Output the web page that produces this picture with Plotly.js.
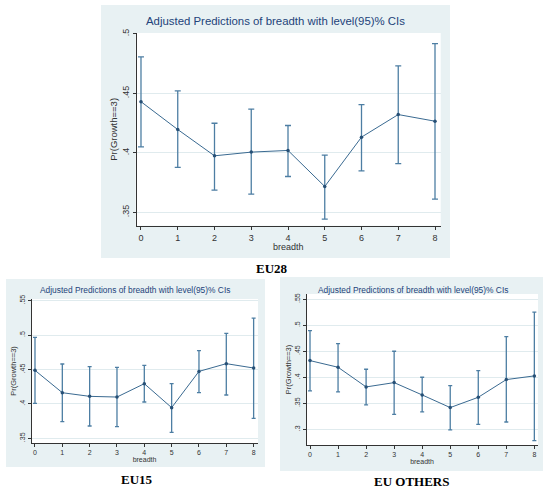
<!DOCTYPE html>
<html>
<head>
<meta charset="utf-8">
<script src="https://cdn.plot.ly/plotly-3.0.1.min.js"></script>
<style>
  html, body { margin: 0; padding: 0; background: #fff; }
  #chart { width: 550px; height: 489px; }
</style>
</head>
<body>
<div id="chart"></div>
<script>
// values
const breadth = [0, 1, 2, 3, 4, 5, 6, 7, 8];

const eu28Pred = [0.443, 0.4196, 0.3975, 0.4006, 0.402, 0.3717, 0.4132, 0.4322, 0.4266];
const eu28Hi   = [0.4807, 0.4521, 0.4249, 0.4367, 0.423, 0.398, 0.4406, 0.4731, 0.4919];
const eu28Lo   = [0.405, 0.3877, 0.3686, 0.3653, 0.3801, 0.3443, 0.3849, 0.391, 0.361];

const eu15Pred = [0.4488, 0.4163, 0.411, 0.41, 0.4294, 0.3946, 0.4473, 0.4585, 0.4522];
const eu15Hi   = [0.4967, 0.458, 0.4541, 0.4532, 0.456, 0.4294, 0.4774, 0.5025, 0.5248];
const eu15Lo   = [0.4009, 0.3742, 0.3679, 0.3669, 0.4028, 0.3587, 0.4163, 0.413, 0.379];

const euoPred = [0.432, 0.4192, 0.3814, 0.3897, 0.366, 0.3417, 0.3615, 0.3955, 0.4026];
const euoHi   = [0.4897, 0.4647, 0.4154, 0.45, 0.40, 0.384, 0.4128, 0.4782, 0.525];
const euoLo   = [0.3737, 0.3718, 0.3468, 0.3288, 0.3333, 0.2987, 0.3096, 0.314, 0.2782];

const eu28Ticks = [0.35, 0.4, 0.45, 0.5];
const eu28TickText = ['.35', '.4', '.45', '.5'];
const eu15Ticks = [0.35, 0.4, 0.45, 0.5, 0.55];
const eu15TickText = ['.35', '.4', '.45', '.5', '.55'];
const euoTicks = [0.3, 0.35, 0.4, 0.45, 0.5, 0.55];
const euoTickText = ['.3', '.35', '.4', '.45', '.5', '.55'];

const plotTitle = 'Adjusted Predictions of breadth with level(95)% CIs';
const panelNames = ['EU28', 'EU15', 'EU OTHERS'];

const W = 550, H = 489;
const px = v => v / W;
const py = v => 1 - v / H;

const lineColor = '#3a6a91';
const capColor = '#4d7ea3';
const regionColor = '#e8f1f3';
const gridColor = '#e0ebee';
const titleColor = '#23437a';
const font = 'Liberation Sans, Arial, sans-serif';

function series( pred, hi, lo, xa, ya, cap ) {
    return {
        type: 'scatter',
        mode: 'lines+markers',
        x: breadth,
        y: pred,
        xaxis: xa,
        yaxis: ya,
        showlegend: false,
        line: { color: lineColor, width: 1 },
        marker: { color: '#264f75', size: 3.5 },
        error_y: {
            type: 'data',
            symmetric: false,
            array: hi.map( ( v, i ) => v - pred[ i ] ),
            arrayminus: pred.map( ( v, i ) => v - lo[ i ] ),
            color: capColor,
            thickness: 1.3,
            width: cap
        }
    };
}

const data = [
    series( eu28Pred, eu28Hi, eu28Lo, 'x', 'y', 3 ),
    series( eu15Pred, eu15Hi, eu15Lo, 'x2', 'y2', 2 ),
    series( euoPred, euoHi, euoLo, 'x3', 'y3', 2 )
];

// plot areas in pixels: [left, right, top, bottom]
const areas = [
    [ 135.7, 440.7, 33, 225.7 ],
    [ 31, 258, 299, 443 ],
    [ 306, 538, 294, 445 ]
];
// grey-blue graph regions in pixels
const regions = [
    [ 101, 450, 5, 258 ],
    [ 6, 265, 279, 467 ],
    [ 280, 543, 277, 471 ]
];

function xAxis( area, range, size, standoff ) {
    return {
        domain: [ px( area[ 0 ] ), px( area[ 1 ] ) ],
        anchor: 'free',
        position: py( area[ 3 ] ),
        range: range,
        tickvals: breadth,
        ticks: 'outside',
        ticklen: 3,
        tickcolor: '#333',
        tickfont: { family: font, size: size, color: '#333' },
        showline: true,
        linecolor: '#333',
        linewidth: 1,
        showgrid: false,
        zeroline: false,
        title: { text: 'breadth', font: { family: font, size: size, color: '#333' }, standoff: standoff }
    };
}

function yAxis( area, range, vals, text, size, standoff ) {
    return {
        domain: [ py( area[ 3 ] ), py( area[ 2 ] ) ],
        anchor: 'free',
        position: px( area[ 0 ] ),
        range: range,
        tickvals: vals,
        ticktext: text,
        tickangle: -90,
        ticks: 'outside',
        ticklen: 3,
        tickcolor: '#333',
        tickfont: { family: font, size: size, color: '#333' },
        showline: true,
        linecolor: '#333',
        linewidth: 1,
        showgrid: true,
        gridcolor: gridColor,
        gridwidth: 1,
        zeroline: false,
        title: { text: 'Pr(Growth==3)', font: { family: font, size: size + 0.5, color: '#333' }, standoff: standoff }
    };
}

const shapes = [];
regions.forEach( r => shapes.push( {
    type: 'rect', xref: 'paper', yref: 'paper', layer: 'below',
    x0: px( r[ 0 ] ), x1: px( r[ 1 ] ), y0: py( r[ 3 ] ), y1: py( r[ 2 ] ),
    fillcolor: regionColor, line: { width: 0 }
} ) );
areas.forEach( a => shapes.push( {
    type: 'rect', xref: 'paper', yref: 'paper', layer: 'below',
    x0: px( a[ 0 ] ), x1: px( a[ 1 ] ), y0: py( a[ 3 ] ), y1: py( a[ 2 ] ),
    fillcolor: '#ffffff', line: { width: 0 }
} ) );

const annotations = [
    { text: plotTitle, x: px( 275 ), y: py( 21 ), size: 11.4, color: titleColor, fam: font, bold: false },
    { text: plotTitle, x: px( 135 ), y: py( 290 ), size: 8.4, color: titleColor, fam: font, bold: false },
    { text: plotTitle, x: px( 413 ), y: py( 290 ), size: 8.4, color: titleColor, fam: font, bold: false },
    { text: panelNames[ 0 ], x: px( 272 ), y: py( 268 ), size: 13, color: '#000', fam: 'Liberation Serif, serif', bold: true },
    { text: panelNames[ 1 ], x: px( 137 ), y: py( 479 ), size: 13, color: '#000', fam: 'Liberation Serif, serif', bold: true },
    { text: panelNames[ 2 ], x: px( 412 ), y: py( 481 ), size: 13, color: '#000', fam: 'Liberation Serif, serif', bold: true }
].map( a => ( {
    text: a.bold ? '<b>' + a.text + '</b>' : a.text,
    xref: 'paper', yref: 'paper', x: a.x, y: a.y,
    xanchor: 'center', yanchor: 'middle', showarrow: false,
    font: { family: a.fam, size: a.size, color: a.color }
} ) );

const layout = {
    width: W,
    height: H,
    margin: { l: 0, r: 0, t: 0, b: 0 },
    paper_bgcolor: '#ffffff',
    plot_bgcolor: 'rgba(0,0,0,0)',
    showlegend: false,
    xaxis: xAxis( areas[ 0 ], [ -0.144, 8.155 ], 9, 1 ),
    yaxis: yAxis( areas[ 0 ], [ 0.3387, 0.5008 ], eu28Ticks, eu28TickText, 9, 0 ),
    xaxis2: xAxis( areas[ 1 ], [ -0.146, 8.16 ], 7, 1 ),
    yaxis2: yAxis( areas[ 1 ], [ 0.3432, 0.5525 ], eu15Ticks, eu15TickText, 7, 0 ),
    xaxis3: xAxis( areas[ 2 ], [ -0.143, 8.13 ], 7, 1 ),
    yaxis3: yAxis( areas[ 2 ], [ 0.2698, 0.56 ], euoTicks, euoTickText, 7, 0 ),
    shapes: shapes,
    annotations: annotations
};

Plotly.newPlot( 'chart', data, layout, { displayModeBar: false, staticPlot: true } );
</script>
</body>
</html>
